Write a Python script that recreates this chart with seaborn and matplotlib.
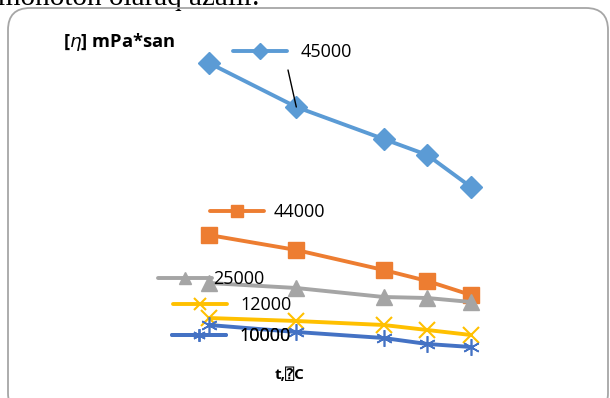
import matplotlib
matplotlib.use("Agg")
import matplotlib.pyplot as plt
import seaborn as sns
import pandas as pd
from matplotlib.patches import FancyBboxPatch
from matplotlib.transforms import IdentityTransform

# ---- data ----
temps = [20, 30, 40, 45, 50]
series_names = ["45000", "44000", "25000", "12000", "10000"]
v45000 = [30.7, 26.3, 23.1, 21.5, 18.3]
v44000 = [13.5, 12.0, 10.0, 8.9, 7.5]
v25000 = [8.7, 8.2, 7.3, 7.2, 6.8]
v12000 = [5.2, 4.9, 4.5, 4.0, 3.5]
v10000 = [4.5, 3.8, 3.2, 2.6, 2.3]
values = [v45000, v44000, v25000, v12000, v10000]
ylabel = "[$\\eta$] mPa*san"
xlabel = "t,\u2370C"
caption = "monoton olaraq azal\u0131r."

colors = ["#5B9BD5", "#ED7D31", "#A5A5A5", "#FFC000", "#4472C4"]
markers = ["D", "s", "^", "x", (6, 2, 0)]
msizes = [11, 12, 12, 11, 12]
mews = [1, 1, 1, 1.5, 1.2]

W, H = 610, 398
sns.set_style("white")
plt.rcParams["font.family"] = ["Open Sans", "DejaVu Sans", "DejaVu Sans Mono"]
plt.rcParams["text.color"] = "black"

fig = plt.figure(figsize=(W / 100, H / 100), dpi=100)
ax = fig.add_axes([0, 0, 1, 1])
ax.set_xlim(-3.93, 65.92)
ax.set_ylim(-2.8, 37.0)
ax.axis("off")

handles = []
for name, vals, c, m, ms, mew in zip(series_names, values, colors, markers, msizes, mews):
    df = pd.DataFrame({"t": temps, "v": vals})
    sns.lineplot(data=df, x="t", y="v", ax=ax, color=c, marker=m, markersize=ms,
                 markeredgecolor=c, markerfacecolor=c, markeredgewidth=mew,
                 linewidth=2.8, legend=False)
    handles.append(ax.get_lines()[-1])

# individual legend entries placed like the reference
def px(x, y):
    return (x / W, 1 - y / H)

legend_pos = {  # handle left x, center y, handletextpad
    "45000": (233, 52, 0.72),
    "44000": (210, 212, 0.55),
    "25000": (158, 279, 0.05),
    "12000": (173, 305, 0.72),
    "10000": (172, 336, 0.72),
}
for name, h in zip(series_names, handles):
    x0, y0, pad = legend_pos[name]
    leg = ax.legend(handles=[h], labels=[name], loc="center left",
                    bbox_to_anchor=px(x0, y0), bbox_transform=fig.transFigure,
                    frameon=False, borderpad=0, borderaxespad=0,
                    handlelength=3.0, handletextpad=pad, fontsize=13,
                    markerscale=0.75, numpoints=1, labelcolor="black")
    ax.add_artist(leg)

# leader line from the 45000 label to its second point
ax.annotate("", xy=(temps[1], v45000[1]), xytext=px(288, 70),
            textcoords="figure fraction",
            arrowprops=dict(arrowstyle="-", color="black", lw=1.0,
                            shrinkA=0, shrinkB=0))

fig.text(63 / W, 1 - 42 / H, ylabel, fontsize=13.2, fontweight="bold",
         ha="left", va="center", color="black")
fig.text(275 / W, 1 - 375 / H, xlabel, fontsize=11, fontweight="bold",
         ha="left", va="center", color="black")

# outer rounded border of the chart area
border = FancyBboxPatch((8, H - 415), 600, 415 - 8,
                        boxstyle="round,pad=0,rounding_size=22",
                        transform=IdentityTransform(), fill=False,
                        edgecolor="#A6A6A6", linewidth=1.3, zorder=10)
fig.patches.append(border)

fig.text(-2 / W, 1 - 5 / H, caption, fontsize=21, family="Liberation Serif",
         ha="left", va="baseline", color="black")

fig.savefig("out.png", dpi=100)
